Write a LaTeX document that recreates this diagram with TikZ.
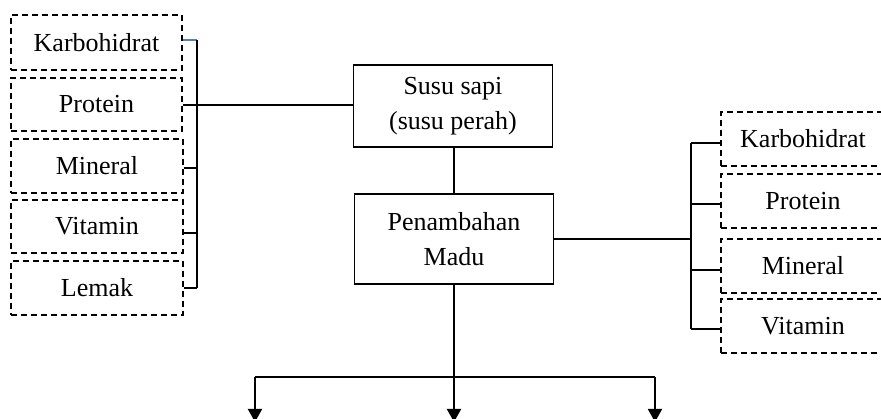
\documentclass[tikz,border=0pt]{standalone}
\usepackage{fontspec}
\setmainfont{Liberation Serif}
\usetikzlibrary{arrows.meta}
\definecolor{stubblue}{RGB}{79,129,189}
\begin{document}
\begin{tikzpicture}[x=1pt,y=-1pt,
  every node/.style={font=\fontsize{26}{35}\selectfont, align=center, inner sep=0pt},
  dbox/.style={draw, dash pattern=on 6pt off 4pt, line width=1.5pt},
  sbox/.style={draw, line width=1.7pt},
  conn/.style={line width=1.7pt},
  arr/.style={line width=1.9pt, -{Triangle[width=14pt,length=13pt]}}]
\useasboundingbox (0,0) rectangle (881,419);

% left dashed boxes
\node[dbox, minimum width=171pt, minimum height=55pt] (lk) at (96.5,42.5) {Karbohidrat};
\node[dbox, minimum width=171pt, minimum height=53pt] (lp) at (96.5,104.5) {Protein};
\node[dbox, minimum width=172pt, minimum height=54pt] (lm) at (97,166) {Mineral};
\node[dbox, minimum width=172pt, minimum height=53pt] (lv) at (97,226.5) {Vitamin};
\node[dbox, minimum width=172pt, minimum height=54pt] (ll) at (97,288) {Lemak};

% centre boxes
\node[sbox, minimum width=199pt, minimum height=82pt] (susu) at (453,106) {Susu sapi\\(susu perah)};
\node[sbox, minimum width=199pt, minimum height=90pt] (pen) at (454,239) {Penambahan\\Madu};

% right dashed boxes (clipped at the right edge)
\node[dbox, minimum width=164pt, minimum height=54pt] (rk) at (803,139) {Karbohidrat};
\node[dbox, minimum width=164pt, minimum height=54pt] (rp) at (803,201) {Protein};
\node[dbox, minimum width=164pt, minimum height=54pt] (rm) at (803,266) {Mineral};
\node[dbox, minimum width=164pt, minimum height=54pt] (rv) at (803,326) {Vitamin};

% helper coordinates
\coordinate (lbx) at (197,0);
\coordinate (rbx) at (691,0);
\coordinate (ylk) at (0,40);
\coordinate (ylp) at (0,105);
\coordinate (ylm) at (0,168);
\coordinate (ylv) at (0,233);
\coordinate (yll) at (0,288);
\coordinate (yrk) at (0,143);
\coordinate (yrp) at (0,204);
\coordinate (yrm) at (0,270);
\coordinate (yrv) at (0,329);

% left bracket
\draw[conn, stubblue] (lk.east |- ylk) -- (lbx |- ylk);
\draw[conn] (lbx |- ylk) -- (lbx |- yll);
\draw[conn] (lp.east |- ylp) -- (lbx |- ylp);
\draw[conn] (lm.east |- ylm) -- (lbx |- ylm);
\draw[conn] (lv.east |- ylv) -- (lbx |- ylv);
\draw[conn] (ll.east |- yll) -- (lbx |- yll);
\draw[conn] (lbx |- ylp) -- (susu.west |- ylp);

% susu to penambahan
\draw[conn] (pen.north |- susu.south) -- (pen.north);

% right bracket
\draw[conn] (pen.east) -- (rbx |- pen.east);
\draw[conn] (rbx |- yrk) -- (rbx |- yrv);
\draw[conn] (rbx |- yrk) -- (rk.west |- yrk);
\draw[conn] (rbx |- yrp) -- (rp.west |- yrp);
\draw[conn] (rbx |- yrm) -- (rm.west |- yrm);
\draw[conn] (rbx |- yrv) -- (rv.west |- yrv);

% bottom branches
\coordinate (hl) at (255,377);
\coordinate (hr) at (655,377);
\coordinate (el) at (255,422);
\coordinate (em) at (454,422);
\coordinate (er) at (655,422);
\draw[conn] (hl) -- (hr);
\draw[arr] (pen.south) -- (em);
\draw[arr] (hl) -- (el);
\draw[arr] (hr) -- (er);
\end{tikzpicture}
\end{document}
